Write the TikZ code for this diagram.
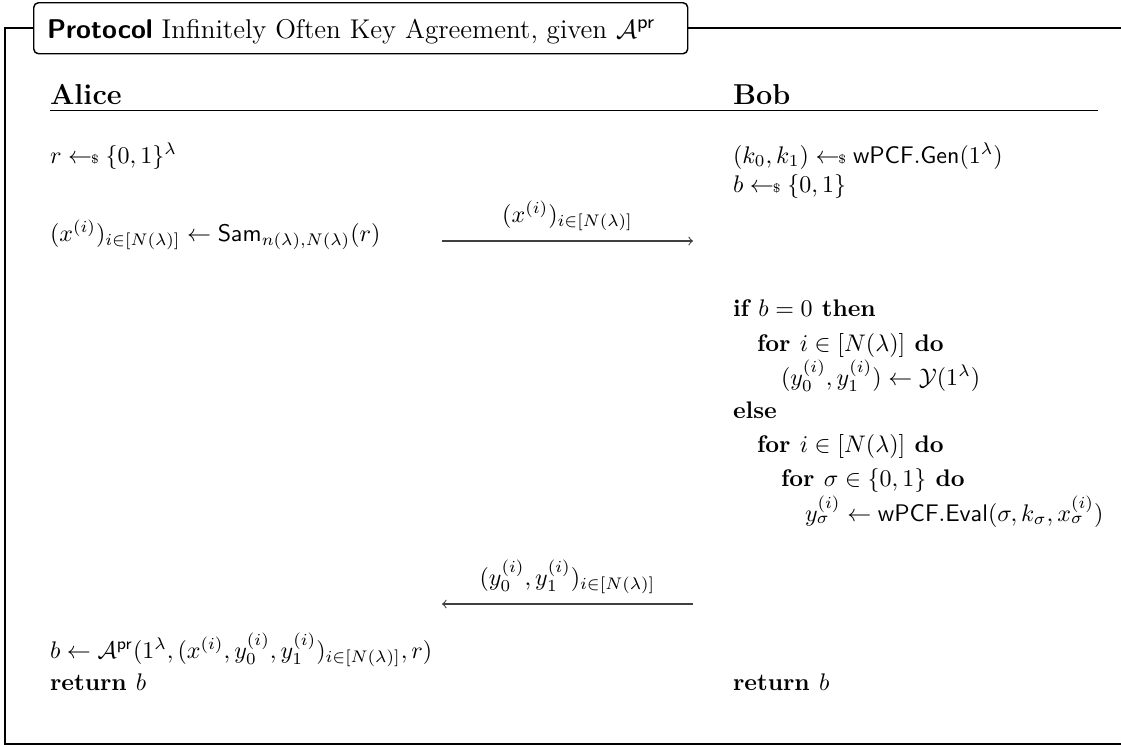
\documentclass[tikz,border=0pt]{standalone}
\usepackage{amsmath,amssymb}
\newcommand{\smp}{\mathrel{\leftarrow\!\!\mbox{\tiny\$}}}
\begin{document}
\begin{tikzpicture}[x=0.41667pt,y=-0.41667pt,
  txt/.style={anchor=base west,inner sep=0pt,outer sep=0pt},
  frameline/.style={line width=0.6pt},
  msg/.style={-to,line width=0.45pt,draw=black!75}]
\useasboundingbox (0,0) rectangle (1121,746);
% frame
\draw[frameline] (33,28) -- (5,28) -- (5,744) -- (1121,744);
\draw[frameline] (687,28) -- (1121,28);
\node[draw,rounded corners=2pt,line width=0.6pt,minimum width=272.5pt,minimum height=21.25pt,anchor=north west,inner sep=0pt] (titlebox) at (33,2) {};
\node[txt] (title) at (47,38) {\fontsize{11.3}{13.5}\selectfont\textsf{\textbf{Protocol}} Infinitely Often Key Agreement, given $\mathcal{A}^{\mathsf{pr}}$};
% headers
\node[txt] (alice) at (50,104) {\large\textbf{Alice}};
\node[txt] (bob) at (733,104) {\large\textbf{Bob}};
\draw[line width=0.4pt] (50,110) -- (1098,110);
% Alice
\node[txt] (a1) at (50,163) {$r \smp \{0,1\}^{\lambda}$};
\node[txt] (a2) at (50,241) {$(x^{(i)})_{i\in[N(\lambda)]} \gets \mathsf{Sam}_{n(\lambda),N(\lambda)}(r)$};
\node[txt] (a3) at (50,658) {$b \gets \mathcal{A}^{\mathsf{pr}}(1^{\lambda},(x^{(i)},y_0^{(i)},y_1^{(i)})_{i\in[N(\lambda)]},r)$};
\node[txt] (a4) at (50,690) {$\textbf{return } b$};
% Bob
\node[txt] (b1) at (733,163) {$(k_0,k_1) \smp \mathsf{wPCF.Gen}(1^{\lambda})$};
\node[txt] (b2) at (733,192) {$b \smp \{0,1\}$};
\node[txt] (b3) at (733,316) {$\textbf{if } b = 0 \textbf{ then}$};
\node[txt] (b4) at (757,351) {$\textbf{for } i \in [N(\lambda)] \textbf{ do}$};
\node[txt] (b5) at (781,385) {$(y_0^{(i)},y_1^{(i)}) \gets \mathcal{Y}(1^{\lambda})$};
\node[txt] (b6) at (733,418) {$\textbf{else}$};
\node[txt] (b7) at (757,452) {$\textbf{for } i \in [N(\lambda)] \textbf{ do}$};
\node[txt] (b8) at (781,486) {$\textbf{for } \sigma \in \{0,1\} \textbf{ do}$};
\node[txt] (b9) at (805,521) {$y_\sigma^{(i)} \gets \mathsf{wPCF.Eval}(\sigma,k_\sigma,x_\sigma^{(i)})$};
\node[txt] (b10) at (733,690) {$\textbf{return } b$};
% messages
\coordinate (m1s) at (442,241);
\coordinate (m1e) at (693,241);
\coordinate (m2s) at (693,604);
\coordinate (m2e) at (442,604);
\draw[msg] (m1s) -- (m1e) node[midway,above=4pt,inner sep=0pt] (m1l) {$(x^{(i)})_{i\in[N(\lambda)]}$};
\draw[msg] (m2s) -- (m2e) node[midway,above=4pt,inner sep=0pt] (m2l) {$(y_0^{(i)},y_1^{(i)})_{i\in[N(\lambda)]}$};
\end{tikzpicture}
\end{document}
